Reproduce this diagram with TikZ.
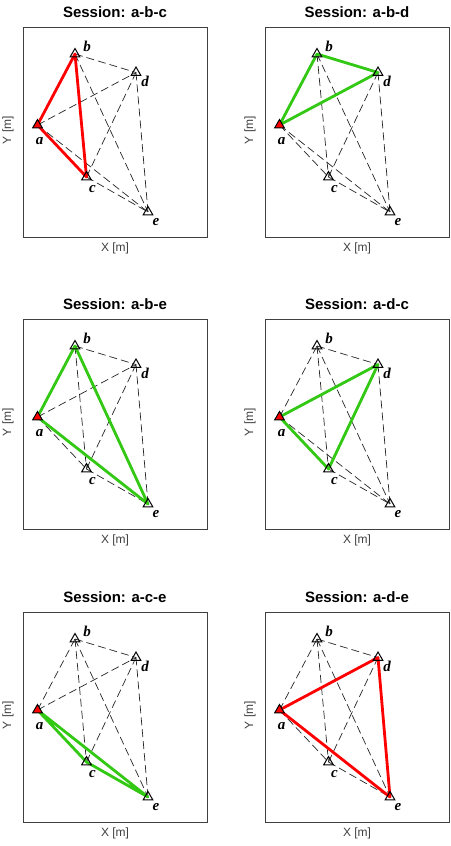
\documentclass[tikz,border=0pt]{standalone}
\usepackage{fontspec}
\setmainfont{Liberation Serif}
\setsansfont{Liberation Sans}
\usetikzlibrary{shapes.geometric}
\definecolor{sesred}{RGB}{255,0,0}
\definecolor{sesgreen}{RGB}{50,200,20}
\tikzset{
 frame/.style={draw=black!75, line width=1.3pt, minimum width=184pt, minimum height=210pt, inner sep=0pt, anchor=north west},
 dashline/.style={draw=black!85, line width=0.7pt, dash pattern=on 8pt off 4pt},
 sesline/.style={line width=2.8pt, line join=round, line cap=round},
 marker/.style={regular polygon, regular polygon sides=3, draw=black, line width=1pt, minimum size=11pt, inner sep=0pt},
 ptlabel/.style={font=\fontsize{15}{15}\selectfont\bfseries\itshape, text=black, inner sep=0pt},
 ttl/.style={font=\sffamily\bfseries\fontsize{15}{15}\selectfont, inner sep=0pt},
 axlabel/.style={font=\sffamily\fontsize{12}{12}\selectfont, text=black!75, inner sep=0pt}
}
\newcommand\sesspanel[8]{%
 \begin{scope}[shift={(#2,#3)}]
  \node[ttl] (T#1) at (92,-15) {Session: #4};
  \node[frame] (F#1) at (0,0) {};
  \node[axlabel] (X#1) at (92,221) {X [m]};
  \node[axlabel, rotate=90] (Y#1) at (-15,103) {Y [m]};
  \coordinate (P#1a) at (14.5,98);
  \coordinate (P#1b) at (52,27);
  \coordinate (P#1c) at (63.5,150);
  \coordinate (P#1d) at (113,45.5);
  \coordinate (P#1e) at (125,185);
  \foreach \u/\v in {a/b,a/c,a/d,a/e,b/c,b/d,b/e,c/d,c/e,d/e}
   \draw[dashline] (P#1\u) -- (P#1\v);
  \draw[sesline, draw=#5] (P#1#6) -- (P#1#7) -- (P#1#8) -- cycle;
  \foreach \u in {b,c,d,e} \node[marker] (M#1\u) at (P#1\u) {};
  \node[marker, fill=red] (M#1a) at (P#1a) {};
  \node[ptlabel] (L#1a) at ([shift={(2,16)}]P#1a) {a};
  \node[ptlabel] (L#1b) at ([shift={(12,-8)}]P#1b) {b};
  \node[ptlabel] (L#1c) at ([shift={(6,12)}]P#1c) {c};
  \node[ptlabel] (L#1d) at ([shift={(9,9)}]P#1d) {d};
  \node[ptlabel] (L#1e) at ([shift={(8,10)}]P#1e) {e};
 \end{scope}}
\begin{document}
\begin{tikzpicture}[x=1pt,y=-1pt]
 \useasboundingbox[fill=white] (0,0) rectangle (450,846);
 \sesspanel{1}{23}{27}{a-b-c}{sesred}{a}{b}{c}
 \sesspanel{2}{265}{27}{a-b-d}{sesgreen}{a}{b}{d}
 \sesspanel{3}{23}{319}{a-b-e}{sesgreen}{a}{b}{e}
 \sesspanel{4}{265}{319}{a-d-c}{sesgreen}{a}{d}{c}
 \sesspanel{5}{23}{612}{a-c-e}{sesgreen}{a}{c}{e}
 \sesspanel{6}{265}{612}{a-d-e}{sesred}{a}{d}{e}
\end{tikzpicture}
\end{document}
